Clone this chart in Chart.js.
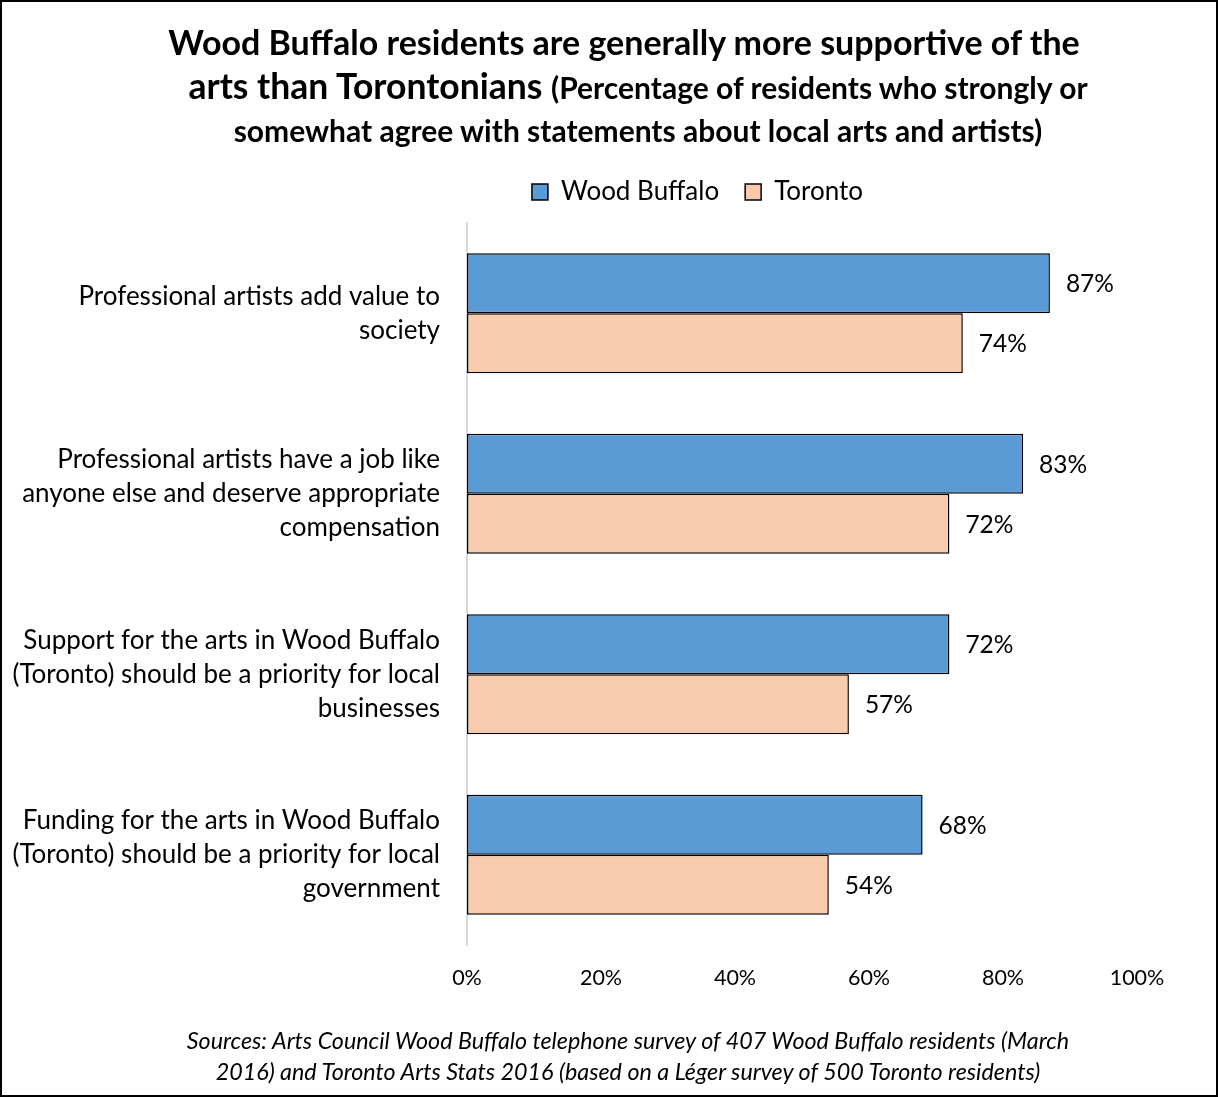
<!DOCTYPE html>
<html>
<head>
<meta charset="utf-8">
<script src="https://cdn.jsdelivr.net/npm/chart.js@4.4.1/dist/chart.umd.min.js"></script>
<style>
  html, body { margin: 0; padding: 0; background: #fff; }
  #wrap { position: relative; width: 1218px; height: 1097px; overflow: hidden; background:#fff; }
  #frame { position: absolute; left: 0; top: 0; width: 1218px; height: 1097px; box-sizing: border-box; border: 2px solid #000; pointer-events: none; }
  canvas { position: absolute; left: 0; top: 0; }
  #title { position: absolute; left: 0; top: 19px; width: 1248px; text-align: center; font-family: Lato, "Open Sans", sans-serif; font-weight: bold; color: #000; }
  #title .l1 { font-size: 34px; line-height: 45px; white-space: nowrap; }
  #title .l2 { font-size: 35.5px; line-height: 44px; white-space: nowrap; padding-left: 28px; }
  #title .small { font-size: 30px; }
  #title .l3 { font-size: 30px; line-height: 42px; white-space: nowrap; padding-left: 28px; }
  #foot { position: absolute; left: 0; top: 1025px; width: 1256px; text-align: center; font-family: Lato, "Open Sans", sans-serif; font-style: italic; font-size: 23.3px; line-height: 31px; color: #000; white-space: nowrap; }
</style>
</head>
<body>
<div id="wrap">
  <canvas id="c" width="1218" height="1097"></canvas>
  <div id="title">
    <div class="l1">Wood Buffalo residents are generally more supportive of the</div>
    <div class="l2">arts than Torontonians <span class="small">(Percentage of residents who strongly or</span></div>
    <div class="l3">somewhat agree with statements about local arts and artists)</div>
  </div>
  <div id="foot">Sources: Arts Council Wood Buffalo telephone survey of 407 Wood Buffalo residents (March<br>2016) and Toronto Arts Stats 2016 (based on a Léger survey of 500 Toronto residents)</div>
  <div id="frame"></div>
</div>
<script>
const categories = [
  ["Professional artists add value to", "society"],
  ["Professional artists have a job like", "anyone else and deserve appropriate", "compensation"],
  ["Support for the arts in Wood Buffalo", "(Toronto) should be a priority for local", "businesses"],
  ["Funding for the arts in Wood Buffalo", "(Toronto) should be a priority for local", "government"]
];
const seriesNames = ["Wood Buffalo", "Toronto"];
const woodBuffalo = [87, 83, 72, 68];
const toronto = [74, 72, 57, 54];
const xTicks = [0, 20, 40, 60, 80, 100];

const FONT = "Lato, 'Open Sans', sans-serif";

const valueLabels = {
  id: 'valueLabels',
  afterDatasetsDraw(chart) {
    const ctx = chart.ctx;
    ctx.save();
    ctx.font = "24.5px " + FONT;
    ctx.fillStyle = "#000";
    ctx.textBaseline = "middle";
    ctx.textAlign = "left";
    chart.data.datasets.forEach((ds, i) => {
      const meta = chart.getDatasetMeta(i);
      meta.data.forEach((bar, j) => {
        ctx.fillText(ds.data[j] + "%", bar.x + 16, bar.y + 1);
      });
    });
    ctx.restore();
  }
};

// shift the legend so that it sits where the reference has it
const legendShift = {
  id: 'legendShift',
  afterLayout(chart) {
    const lg = chart.legend;
    if (lg) { lg.left = 260; lg.right = 1135; lg.top -= 8; lg.bottom -= 8; }
  }
};

new Chart(document.getElementById('c'), {
  type: 'bar',
  data: {
    labels: categories,
    datasets: [
      { label: seriesNames[0], data: woodBuffalo, backgroundColor: '#5b9bd5', borderColor: '#000', borderWidth: 1.5, borderSkipped: false },
      { label: seriesNames[1], data: toronto, backgroundColor: '#f8cbad', borderColor: '#000', borderWidth: 1.5, borderSkipped: false }
    ]
  },
  options: {
    indexAxis: 'y',
    responsive: false,
    animation: false,
    layout: { padding: { left: 0, right: 81, top: 161, bottom: 92 } },
    datasets: { bar: { categoryPercentage: 0.664, barPercentage: 1.0 } },
    plugins: {
      title: { display: false },
      tooltip: { enabled: false },
      legend: {
        display: true,
        position: 'top',
        labels: { font: { family: FONT, size: 26 }, color: '#000', boxWidth: 16, boxHeight: 16, padding: 26 }
      }
    },
    scales: {
      x: {
        min: 0, max: 100,
        afterBuildTicks(s) { s.ticks = xTicks.map(v => ({ value: v })); },
        afterFit(s) { s.height = 60; },
        grid: { display: false },
        border: { display: false },
        ticks: { padding: 12, font: { family: FONT, size: 21.5 }, color: '#000', callback: v => v + '%' }
      },
      y: {
        afterFit(s) { s.width = 467; },
        grid: { display: false },
        border: { display: true, color: '#d9d9d9', width: 2 },
        ticks: { padding: 19, font: { family: FONT, size: 26, lineHeight: 1.31 }, color: '#000' }
      }
    }
  },
  plugins: [valueLabels, legendShift]
});
</script>
</body>
</html>
